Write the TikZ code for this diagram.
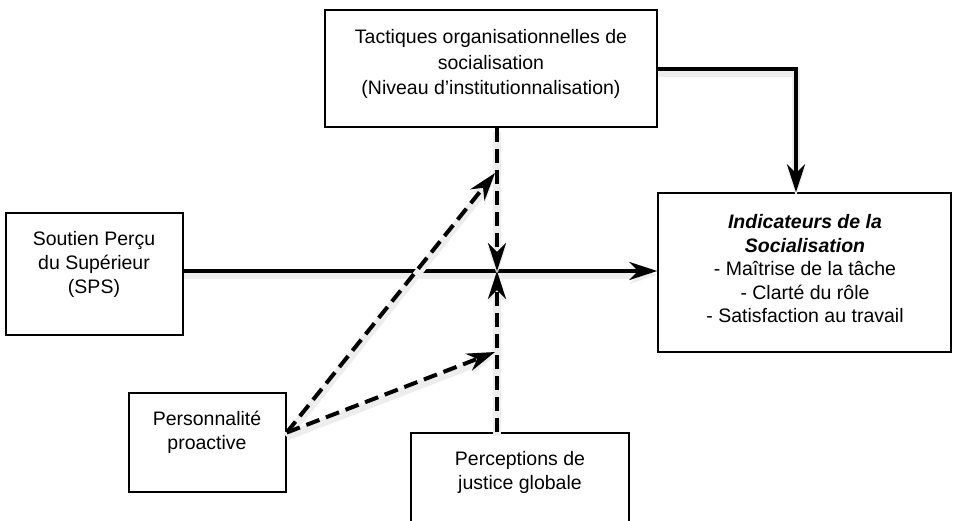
\documentclass[tikz,border=0pt]{standalone}
\usepackage{fontspec}
\setmainfont{Liberation Sans}
\usetikzlibrary{arrows.meta,calc}

\tikzset{
  box/.style={draw, line width=1.5pt, inner sep=0pt},
  txt/.style={align=center, font=\fontsize{19.5}{24}\selectfont},
  link/.style={line width=4pt, -{Stealth[length=28pt,width=18pt,inset=9pt]},
    preaction={draw=black!7, line width=8pt, transform canvas={yshift=-4pt}}},
  dlink/.style={link, dash pattern=on 14pt off 7pt},
}

\begin{document}
\begin{tikzpicture}[x=1pt,y=-1pt]
\useasboundingbox (0,0) rectangle (953,520);
% boxes
\node[box, minimum width=332pt, minimum height=117pt] (tact) at (491,68.5) {};
\node[box, minimum width=293pt, minimum height=159pt] (ind) at (804.5,272.5) {};
\node[box, minimum width=177pt, minimum height=122pt] (sps) at (94.5,274) {};
\node[box, minimum width=157pt, minimum height=99pt] (pro) at (207.5,442.5) {};
\node[box, minimum width=218pt, minimum height=97pt] (just) at (520,481.5) {};
% texts
\node[txt, font=\fontsize{19.5}{25.5}\selectfont] (tact-t) at (491,64) {Tactiques organisationnelles de\\socialisation\\(Niveau d’institutionnalisation)};
\node[txt, font=\fontsize{19.5}{23.5}\selectfont] (ind-t) at (805,269) {\textbf{\textit{Indicateurs de la}}\\\textbf{\textit{Socialisation}}\\- Maîtrise de la tâche\\- Clarté du rôle\\- Satisfaction au travail};
\node[txt] (sps-t) at (94,264) {Soutien Perçu\\du Supérieur\\(SPS)};
\node[txt] (pro-t) at (207,432) {Personnalité\\proactive};
\node[txt] (just-t) at (520,472) {Perceptions de\\justice globale};
% links
\coordinate (x) at (497,271);
\coordinate (t1) at (495,173);
\coordinate (t2) at (495,352);
\draw[link] (tact.east) -| ([xshift=-8.5pt]ind.north);
\draw[link] (sps.east |- x) -- (ind.west |- x);
\draw[dlink] (tact.south -| x) -- (x);
\draw[dlink] (just.north -| x) -- (x);
\draw[dlink] ([yshift=10pt]pro.east) -- (t1);
\draw[dlink] ([yshift=10pt]pro.east) -- (t2);
\end{tikzpicture}
\end{document}
